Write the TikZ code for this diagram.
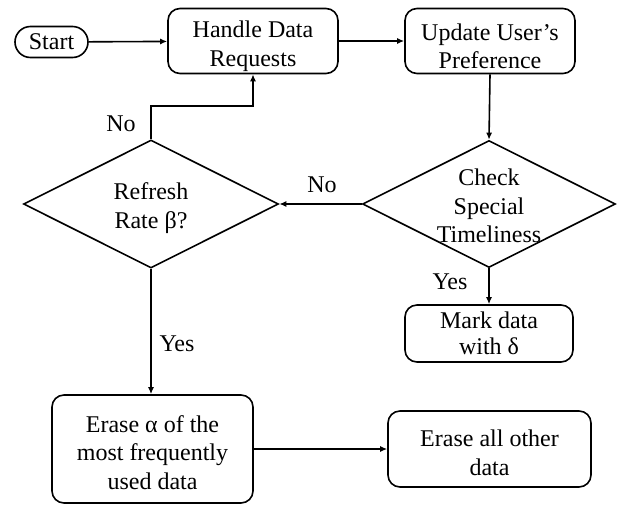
\documentclass[tikz,border=0pt]{standalone}
\usepackage{fontspec}
\setmainfont{Liberation Serif}
\usetikzlibrary{shapes.geometric,arrows.meta}
\newcommand{\myfstrut}{\rule{0pt}{27.5pt}}
\newcommand{\mysstrut}{\rule{0pt}{24pt}}
\begin{document}
\begin{tikzpicture}[x=1pt,y=-1pt,
  txt/.style={font=\fontsize{24}{28.5}\selectfont, align=center},
  box/.style={draw, line width=1.6pt, rounded corners=12pt, inner sep=0pt, txt},
  pill/.style={draw, line width=1.6pt, rounded corners=15.5pt, inner sep=0pt, txt},
  dia/.style={draw, line width=1.6pt, diamond, inner sep=0pt},
  arr/.style={line width=1.6pt, -{Latex[length=7pt,width=6pt]}},
  lbl/.style={font=\fontsize{24}{28}\selectfont, inner sep=0pt}
]
\useasboundingbox (0,0) rectangle (617,504);
\node[pill, minimum width=73pt, minimum height=31pt] (start) at (51.5,42) {Start};
\node[box, minimum width=170pt, minimum height=65pt] (handle) at (253,41) {\myfstrut Handle Data\\Requests};
\node[box, minimum width=170pt, minimum height=65pt] (update) at (490,41) {\myfstrut Update User’s\\Preference};
\node[dia, minimum width=253pt, minimum height=127pt] (check) at (489,204) {};
\node[txt] (checkt) at (489,206) {Check\\Special\\Timeliness};
\node[dia, minimum width=255pt, minimum height=128pt] (refresh) at (151,204) {};
\node[txt] (refresht) at (151,208) {Refresh\\Rate β?};
\node[box, minimum width=168pt, minimum height=57pt, font=\fontsize{24}{26}\selectfont] (mark) at (489,333.5) {Mark data\\with δ};
\node[box, minimum width=201pt, minimum height=108pt] (erasea) at (152.5,449) {\mysstrut Erase α of the\\most frequently\\used data};
\node[box, minimum width=203pt, minimum height=76pt] (eraseo) at (489.5,449) {\mysstrut Erase all other\\data};

\draw[arr] (start) -- (handle);
\draw[arr] (handle) -- (update);
\draw[arr] (update.south) -- (check.north);
\draw[arr] (check.west) -- (refresh.east);
\draw[arr] (refresh.north) -- ++(0,-33) -| (handle.south);
\draw[arr] (check.south) -- (mark.north);
\draw[arr] (refresh.south) -- (erasea.north -| refresh.south);
\draw[arr] (erasea.east |- eraseo.west) -- (eraseo.west);

\node[lbl] (no1) at (121,124) {No};
\node[lbl] (no2) at (322,185) {No};
\node[lbl] (yes1) at (450,282) {Yes};
\node[lbl] (yes2) at (177,344) {Yes};
\end{tikzpicture}
\end{document}
